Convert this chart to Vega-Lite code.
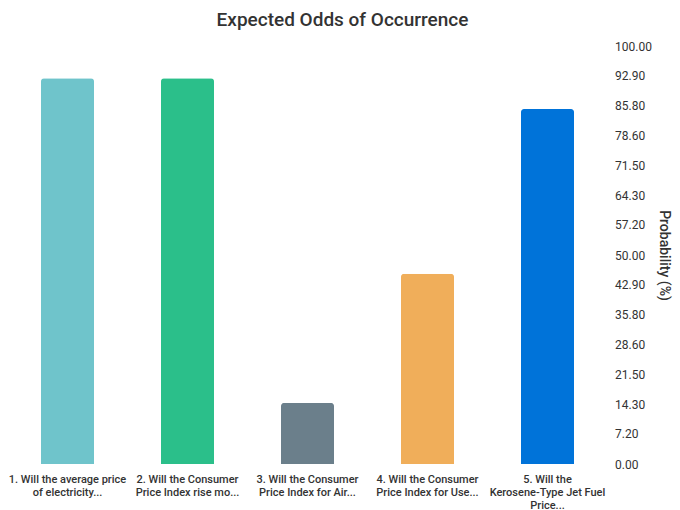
{
  "$schema": "https://vega.github.io/schema/vega-lite/v6.json",
  "autosize": "none",
  "padding": {"left": 7.5, "top": 46, "right": 72.5, "bottom": 46},
  "width": 600,
  "height": 418,
  "background": "white",
  "title": {
    "text": "Expected Odds of Occurrence",
    "font": "Roboto",
    "fontSize": 19,
    "fontWeight": 500,
    "color": "#333333",
    "anchor": "middle",
    "frame": "group",
    "dx": 35,
    "offset": 10
  },
  "data": {
    "values": [
      {"question": "1. Will the average price\nof electricity...", "probability": 92.3, "color": "#6fc4cb"},
      {"question": "2. Will the Consumer\nPrice Index rise mo...", "probability": 92.3, "color": "#2bbf8a"},
      {"question": "3. Will the Consumer\nPrice Index for Air...", "probability": 14.6, "color": "#6b7f8b"},
      {"question": "4. Will the Consumer\nPrice Index for Use...", "probability": 45.5, "color": "#f0ae5a"},
      {"question": "5. Will the\nKerosene-Type Jet Fuel\nPrice...", "probability": 84.9, "color": "#0073d9"}
    ]
  },
  "mark": {"type": "bar", "width": 53, "cornerRadiusTopLeft": 3, "cornerRadiusTopRight": 3},
  "encoding": {
    "x": {
      "field": "question",
      "type": "nominal",
      "sort": null,
      "scale": {"paddingInner": 0, "paddingOuter": 0},
      "axis": {
        "title": null,
        "labelAngle": 0,
        "labelExpr": "split(datum.label, '\\n')",
        "labelFont": "Roboto",
        "labelFontSize": 11,
        "labelFontWeight": 500,
        "labelColor": "#333333",
        "labelLineHeight": 13,
        "labelPadding": 9,
        "labelLimit": 200,
        "domain": false,
        "ticks": false,
        "grid": false
      }
    },
    "y": {
      "field": "probability",
      "type": "quantitative",
      "scale": {"domain": [0, 100], "nice": false},
      "axis": {
        "orient": "right",
        "title": "Probability (%)",
        "values": [0, 7.2, 14.3, 21.5, 28.6, 35.8, 42.9, 50, 57.2, 64.3, 71.5, 78.6, 85.8, 92.9, 100],
        "format": ".2f",
        "labelFont": "Roboto",
        "labelFontSize": 12,
        "labelColor": "#333333",
        "labelPadding": 7,
        "titleFont": "Roboto",
        "titleFontSize": 14,
        "titleFontWeight": 500,
        "titleColor": "#333333",
        "titlePadding": 5,
        "domain": false,
        "ticks": false,
        "grid": false
      }
    },
    "color": {"field": "color", "type": "nominal", "scale": null, "legend": null}
  },
  "config": {"view": {"stroke": null}}
}
